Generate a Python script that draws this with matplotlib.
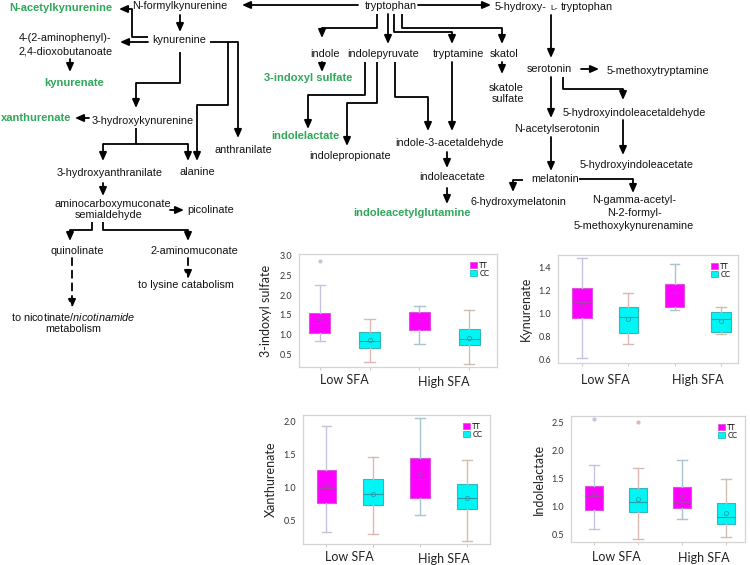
import numpy as np
import matplotlib
matplotlib.use("Agg")
import matplotlib.pyplot as plt
from matplotlib.patches import Patch

plt.rcParams["font.family"] = ["Liberation Sans", "DejaVu Sans"]
plt.rcParams["mathtext.fontset"] = "custom"
plt.rcParams["mathtext.rm"] = "Liberation Sans"
plt.rcParams["mathtext.it"] = "Liberation Sans:italic"

# ---- box plot data (order: TT Low, CC Low, TT High, CC High) ----
groups = ["Low SFA", "High SFA"]
genotypes = ["TT", "CC"]

indoxyl_whislo = [0.82, 0.31, 0.75, 0.24]
indoxyl_q1 = [1.04, 0.65, 1.11, 0.72]
indoxyl_med = [1.30, 0.83, 1.40, 0.88]
indoxyl_q3 = [1.55, 1.06, 1.56, 1.14]
indoxyl_whishi = [2.27, 1.40, 1.73, 1.62]
indoxyl_mean = [1.39, 0.85, 1.35, 0.92]
indoxyl_fliers = [[2.88], [], [], []]

kyn_whislo = [0.62, 0.74, 1.03, 0.82]
kyn_q1 = [0.96, 0.83, 1.06, 0.84]
kyn_med = [1.10, 0.97, 1.18, 0.95]
kyn_q3 = [1.22, 1.055, 1.26, 1.01]
kyn_whishi = [1.48, 1.18, 1.43, 1.055]
kyn_mean = [1.08, 0.955, 1.18, 0.94]
kyn_fliers = [[], [], [], []]

xan_whislo = [0.33, 0.30, 0.58, 0.19]
xan_q1 = [0.77, 0.74, 0.84, 0.67]
xan_med = [0.99, 0.91, 1.13, 0.84]
xan_q3 = [1.26, 1.13, 1.45, 1.05]
xan_whishi = [1.94, 1.47, 2.05, 1.42]
xan_mean = [1.03, 0.90, 1.21, 0.84]
xan_fliers = [[], [], [], []]

ila_whislo = [0.61, 0.42, 0.78, 0.46]
ila_q1 = [0.95, 0.91, 0.98, 0.70]
ila_med = [1.19, 1.08, 1.08, 0.82]
ila_q3 = [1.37, 1.33, 1.36, 1.06]
ila_whishi = [1.74, 1.69, 1.84, 1.49]
ila_mean = [1.23, 1.14, 1.19, 0.88]
ila_fliers = [[2.57], [2.51], [], []]

# ---- pathway labels ----
black_labels = [
    ("N-formylkynurenine", 180, 6),
    ("4-(2-aminophenyl)-", 65, 38),
    ("2,4-dioxobutanoate", 66, 51),
    ("kynurenine", 179, 40),
    ("3-hydroxykynurenine", 143, 121),
    ("anthranilate", 243, 150),
    ("3-hydroxyanthranilate", 110, 173),
    ("alanine", 197, 172),
    ("aminocarboxymuconate", 113, 204),
    ("semialdehyde", 109, 215),
    ("picolinate", 211, 210),
    ("quinolinate", 77, 251),
    ("2-aminomuconate", 194, 251),
    ("to nicotinate/$\\it{nicotinamide}$", 73, 317),
    ("metabolism", 73, 329),
    ("to lysine catabolism", 186, 285),
    ("tryptophan", 391, 6),
    ("indole", 325, 54),
    ("indolepyruvate", 383, 54),
    ("tryptamine", 458, 54),
    ("skatol", 504, 54),
    ("skatole", 506, 88),
    ("sulfate", 508, 99),
    ("indolepropionate", 350, 156),
    ("indole-3-acetaldehyde", 450, 143),
    ("indoleacetate", 452, 177),
    ("serotonin", 549, 69),
    ("5-methoxytryptamine", 658, 71),
    ("5-hydroxyindoleacetaldehyde", 634, 113),
    ("N-acetylserotonin", 557, 129),
    ("5-hydroxyindoleacetate", 637, 165),
    ("melatonin", 555, 179),
    ("6-hydroxymelatonin", 518, 202),
    ("N-gamma-acetyl-", 634, 200),
    ("N-2-formyl-", 634, 213),
    ("5-methoxykynurenamine", 634, 226),
]
green_labels = [
    ("N-acetylkynurenine", 61, 8),
    ("kynurenate", 74, 83),
    ("xanthurenate", 36, 118),
    ("3-indoxyl sulfate", 308, 78),
    ("indolelactate", 305, 136),
    ("indoleacetylglutamine", 412, 213),
]

arrows = [
    [(358, 5), (242, 5)],
    [(180, 15), (180, 32)],
    [(148, 37), (132, 37), (132, 9), (119, 9)],
    [(148, 42), (120, 42)],
    [(70, 59), (70, 72)],
    [(180, 52), (180, 83), (136, 83), (136, 108)],
    [(89, 118), (75, 118)],
    [(210, 42), (238, 42), (238, 138)],
    [(228, 42), (228, 105), (197, 105), (197, 161)],
    [(136, 128), (136, 144), (103, 144), (103, 161)],
    [(136, 144), (188, 144), (188, 161)],
    [(103, 183), (103, 196)],
    [(170, 210), (184, 210)],
    [(92, 222), (92, 230), (70, 230), (70, 241)],
    [(103, 222), (103, 230), (188, 230), (188, 241)],
    [(418, 5), (491, 5)],
    [(377, 14), (377, 28), (322, 28), (322, 38)],
    [(388, 14), (388, 44)],
    [(394, 14), (394, 32), (452, 32), (452, 44)],
    [(402, 14), (402, 28), (502, 28), (502, 44)],
    [(322, 62), (322, 72)],
    [(365, 62), (365, 95), (308, 95), (308, 129)],
    [(377, 62), (377, 103), (347, 103), (347, 146)],
    [(395, 62), (395, 97), (428, 97), (428, 131)],
    [(452, 62), (452, 131)],
    [(447, 152), (447, 168)],
    [(447, 188), (447, 204)],
    [(502, 62), (502, 74)],
    [(551, 15), (551, 58)],
    [(581, 69), (599, 69)],
    [(563, 77), (563, 89), (623, 89), (623, 100)],
    [(551, 77), (551, 118)],
    [(623, 120), (623, 155)],
    [(551, 137), (551, 171)],
    [(579, 179), (633, 179), (633, 193)],
    [(523, 180), (513, 180), (513, 192)],
]
dashed_arrows = [
    [(72, 258), (72, 308)],
    [(188, 258), (188, 279)],
]

W, H = 750, 565
fig = plt.figure(figsize=(7.5, 5.65), dpi=100)

ax0 = fig.add_axes([0, 0, 1, 1])
ax0.set_xlim(0, W)
ax0.set_ylim(H, 0)
ax0.axis("off")

for txt, x, y in black_labels:
    ax0.text(x, y, txt, ha="center", va="center", fontsize=7.8, color="#111111")
for txt, x, y in green_labels:
    ax0.text(x, y, txt, ha="center", va="center", fontsize=8, color="#2fa85a",
             fontweight="bold")
ax0.text(495, 7, "5-hydroxy-", ha="left", va="center", fontsize=7.8, color="#111111")
ax0.text(550, 9, "L-", ha="left", va="center", fontsize=6, color="#111111")
ax0.text(561, 7, "tryptophan", ha="left", va="center", fontsize=7.8, color="#111111")


def draw_path(pts, ls="-"):
    xs = [p[0] for p in pts]
    ys = [p[1] for p in pts]
    if len(pts) > 2:
        ax0.plot(xs[:-1], ys[:-1], color="black", lw=1.3, ls=ls, solid_capstyle="butt")
    ax0.annotate("", xy=pts[-1], xytext=pts[-2],
                 arrowprops=dict(arrowstyle="-|>,head_length=0.5,head_width=0.22",
                                 color="black", lw=1.3, ls=ls,
                                 shrinkA=0, shrinkB=0))


for p in arrows:
    draw_path(p)
for p in dashed_arrows:
    draw_path(p, ls=(0, (4, 3)))

# ---- box plots ----
box_face = ["#ff00ff", "#00f5f5", "#ff00ff", "#00f5f5"]
box_edge = ["#e050e0", "#30b8c0", "#e050e0", "#30b8c0"]
med_col = ["#b040b0", "#20a0a8", "#b040b0", "#20a0a8"]
whisk_col = ["#c4c4de", "#dcbab2", "#a8c4cc", "#d0beae"]


def box_panel(rect, ylabel, whislo, q1, med, q3, whishi, mean, fliers,
              ylim, yticks, xlim, off_low, off_high):
    ax = fig.add_axes([rect[0] / W, 1 - rect[3] / H, (rect[2] - rect[0]) / W,
                       (rect[3] - rect[1]) / H])
    stats = []
    for i in range(4):
        stats.append(dict(whislo=whislo[i], q1=q1[i], med=med[i], q3=q3[i],
                          whishi=whishi[i], mean=mean[i], fliers=fliers[i]))
    for i in range(4):
        ax.bxp([stats[i]], positions=[i + 1], widths=0.42, patch_artist=True,
               showmeans=True, showcaps=True,
               boxprops=dict(facecolor=box_face[i], edgecolor=box_edge[i], lw=0.8),
               medianprops=dict(color=med_col[i], lw=0.8),
               whiskerprops=dict(color=whisk_col[i], lw=1.0),
               capprops=dict(color=whisk_col[i], lw=1.0),
               meanprops=dict(marker="o", markersize=3, markerfacecolor="none",
                              markeredgecolor=med_col[i], markeredgewidth=0.6),
               flierprops=dict(marker="o", markersize=2, markerfacecolor=whisk_col[i],
                               markeredgecolor=whisk_col[i]))
    ax.set_xlim(*xlim)
    ax.set_ylim(*ylim)
    ax.set_yticks(yticks)
    ax.set_yticklabels([f"{t:.1f}" for t in yticks], fontsize=6.5, family="Lato",
                       color="#333333")
    ax.set_xticks([1, 2, 3, 4])
    ax.set_xticklabels([])
    ax.tick_params(axis="x", length=2, color="#cccccc")
    ax.tick_params(axis="y", length=0, pad=5)
    for s in ax.spines.values():
        s.set_color("#d4d4d4")
        s.set_linewidth(0.9)
    ax.set_ylabel(ylabel, fontsize=9, family="Lato", color="#222222", labelpad=5)
    for g, pos, off in zip(groups, [1.5, 3.5], [off_low, off_high]):
        ax.annotate(g, xy=(pos, 0), xycoords=("data", "axes fraction"),
                    xytext=(0, -off * 0.72), textcoords="offset points",
                    ha="center", va="center", fontsize=9, family="Lato",
                    color="#222222")
    handles = [Patch(facecolor=box_face[0], edgecolor=box_edge[0], lw=0.6),
               Patch(facecolor=box_face[1], edgecolor=box_edge[1], lw=0.6)]
    ax.legend(handles, genotypes, loc="upper right", frameon=False,
              prop=dict(family="Lato", size=5.5), handlelength=0.9, handleheight=0.9,
              handletextpad=0.3, labelspacing=0.15, borderaxespad=0.6)
    return ax


box_panel((299, 254, 497, 367), "3-indoxyl sulfate", indoxyl_whislo, indoxyl_q1,
          indoxyl_med, indoxyl_q3, indoxyl_whishi, indoxyl_mean, indoxyl_fliers,
          (0.17, 3.05), [0.5, 1.0, 1.5, 2.0, 2.5, 3.0], (0.58, 4.56), 13, 15)
box_panel((558, 255, 738, 363), "Kynurenate", kyn_whislo, kyn_q1, kyn_med, kyn_q3,
          kyn_whishi, kyn_mean, kyn_fliers,
          (0.574, 1.506), [0.6, 0.8, 1.0, 1.2, 1.4], (0.48, 4.37), 17, 17)
box_panel((303, 415, 490, 544), "Xanthurenate", xan_whislo, xan_q1, xan_med, xan_q3,
          xan_whishi, xan_mean, xan_fliers,
          (0.147, 2.10), [0.5, 1.0, 1.5, 2.0], (0.5, 4.49), 13, 15)
box_panel((571, 416, 745, 542), "Indolelactate", ila_whislo, ila_q1, ila_med, ila_q3,
          ila_whishi, ila_mean, ila_fliers,
          (0.37, 2.62), [0.5, 1.0, 1.5, 2.0, 2.5], (0.48, 4.43), 15, 16)

fig.savefig("out.png", dpi=100)
